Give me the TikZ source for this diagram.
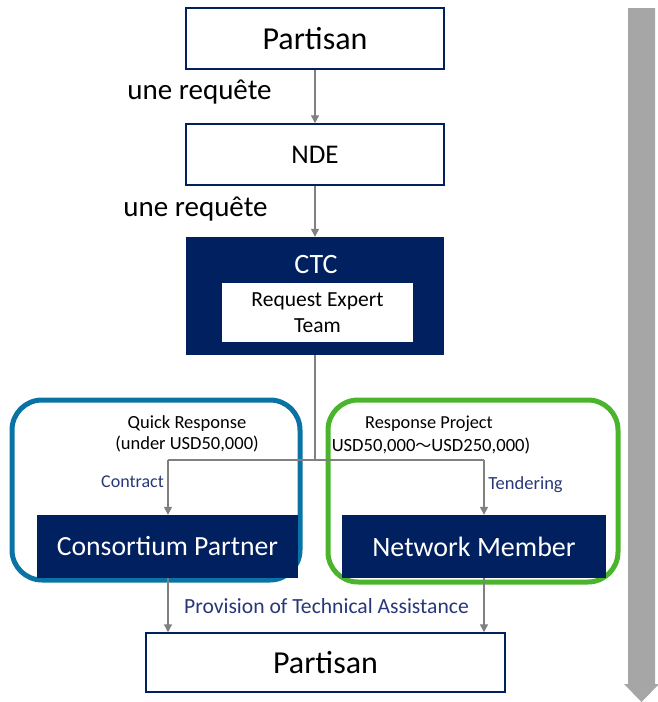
\documentclass[tikz,border=0pt]{standalone}
\usepackage{fontspec}
\setmainfont{Carlito}
\newfontfamily\cjk{Noto Sans CJK JP}
\usetikzlibrary{arrows.meta,calc}
\definecolor{navy}{RGB}{0,32,96}
\definecolor{labelblue}{RGB}{40,55,120}
\definecolor{linegrey}{RGB}{128,128,128}
\definecolor{bargrey}{RGB}{166,166,166}
\definecolor{ringblue}{RGB}{10,115,165}
\definecolor{ringgreen}{RGB}{75,180,45}
\tikzset{
  whitebox/.style={draw=navy, line width=1.5pt, fill=white, minimum width=#1,
    inner sep=0pt, text=black},
  navybox/.style={fill=navy, inner sep=0pt, text=white},
  conn/.style={draw=linegrey, line width=1.4pt, -{Triangle[length=8pt,width=8pt]}},
  plainconn/.style={draw=linegrey, line width=1.4pt},
  ring/.style={line width=5pt, rounded corners=30pt},
  flowlabel/.style={text=labelblue, inner sep=0pt},
}
\begin{document}
\begin{tikzpicture}[x=1pt,y=-1pt]
\useasboundingbox (0,0) rectangle (658,702);

% time axis arrow on the right
\fill[bargrey] (628,8) -- (655,8) -- (655,684) -- (659,684) -- (641.5,702)
  -- (624,684) -- (628,684) -- cycle;

% grouping frames
\draw[ring, draw=ringblue] (12,400) rectangle (300,580);
\draw[ring, draw=ringgreen] (328,400) rectangle (618,582);

% main boxes
\node[whitebox=258pt, minimum height=61pt, font=\fontsize{32}{36}\selectfont]
  (top) at (315,38.5) {Partisan};
\node[whitebox=258pt, minimum height=61pt, font=\fontsize{27}{31}\selectfont]
  (nde) at (315,154.5) {NDE};
\node[navybox, minimum width=258pt, minimum height=118pt] (ctc) at (315,296) {};
\node[text=white, font=\fontsize{28}{32}\selectfont, inner sep=0pt]
  (ctctitle) at (316,265) {CTC};
\node[fill=white, minimum width=191pt, minimum height=59pt, inner sep=0pt,
  align=center, font=\fontsize{21.5}{25.5}\selectfont]
  (ret) at (317.5,312.5) {Request Expert\\Team};

\node[navybox, minimum width=261pt, minimum height=63pt,
  font=\fontsize{27.7}{32}\selectfont] (cons) at (167.5,546.5) {Consortium Partner};
\node[navybox, minimum width=264pt, minimum height=63pt,
  font=\fontsize{28}{32}\selectfont] (net) at (474,546.5) {Network Member};

\node[whitebox=359pt, minimum height=59pt, font=\fontsize{32}{36}\selectfont]
  (bot) at (325.5,662.5) {Partisan};

% request labels
\node[font=\fontsize{29}{33}\selectfont, inner sep=0pt] (req1) at (199.5,92) {une requête};
\node[font=\fontsize{29}{33}\selectfont, inner sep=0pt] (req2) at (195.5,209) {une requête};

% branch labels
\node[font=\fontsize{18.5}{21}\selectfont, align=center, inner sep=0pt]
  (quick) at (187,434) {Quick Response\\(under USD50,000)};
\node[font=\fontsize{18.3}{21}\selectfont, inner sep=0pt]
  (rpt) at (429,424) {Response Project};
\node[font=\fontsize{18.6}{21}\selectfont, inner sep=0pt]
  (rpr) at (431,446) {USD50,000{\cjk\fontsize{16}{18}\selectfont ～}USD250,000)};
\node[flowlabel, font=\fontsize{18}{21}\selectfont] (contract) at (132.5,482) {Contract};
\node[flowlabel, font=\fontsize{18.5}{21}\selectfont] (tender) at (525.5,485) {Tendering};
\node[flowlabel, font=\fontsize{21.6}{25}\selectfont] (prov) at (326.5,606) {Provision of Technical Assistance};

% connectors
\coordinate (jc) at (315,460);
\coordinate (jl) at (168,460);
\coordinate (jr) at (484,460);
\draw[conn] (top) -- (nde);
\draw[conn] (nde) -- (ctc);
\draw[plainconn] (ctc.south) -- (jc);
\draw[plainconn] (jl) -- (jr);
\draw[conn] (jl) -- (jl |- cons.north);
\draw[conn] (jr) -- (jr |- net.north);
\draw[conn] (jl |- cons.south) -- (jl |- bot.north);
\draw[conn] (jr |- net.south) -- (jr |- bot.north);
\end{tikzpicture}
\end{document}
